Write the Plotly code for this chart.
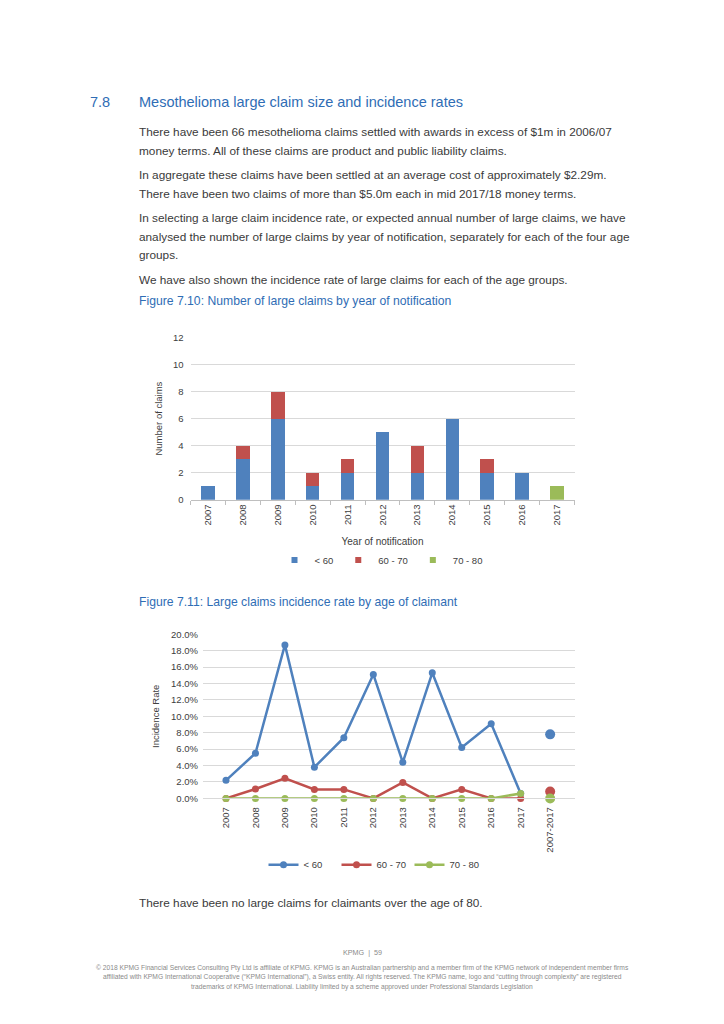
import plotly.graph_objects as go

# page is rendered inside an 8px body margin, so the figure is 8px smaller
OFF = 8
W, H = 716, 1016

# ---------- data ----------
years = ["2007", "2008", "2009", "2010", "2011", "2012", "2013", "2014", "2015", "2016", "2017"]
claims_lt60 = [1, 3, 6, 1, 2, 5, 2, 6, 2, 2, 0]
claims_60_70 = [0, 1, 2, 1, 1, 0, 2, 0, 1, 0, 0]
claims_70_80 = [0, 0, 0, 0, 0, 0, 0, 0, 0, 0, 1]

all_label = "2007-2017"
rate_lt60 = [2.2, 5.5, 18.7, 3.8, 7.4, 15.1, 4.4, 15.3, 6.2, 9.1, 0.6]
rate_60_70 = [0.0, 1.15, 2.45, 1.1, 1.1, 0.0, 1.95, 0.0, 1.1, 0.0, 0.0]
rate_70_80 = [0.0, 0.0, 0.0, 0.0, 0.0, 0.0, 0.0, 0.0, 0.0, 0.0, 0.6]
rate_all = {"< 60": 7.8, "60 - 70": 0.85, "70 - 80": 0.0}

series_names = ["< 60", "60 - 70", "70 - 80"]
colors = ["#4F81BD", "#C0504D", "#9BBB59"]

BLUE_TXT = "#2F6DB5"
BODY = "#3a3a3a"
FONT = "Liberation Sans, Arial, sans-serif"


def px(x):
    return (x - OFF) / W


def py(y):
    return 1 - (y - OFF) / H


fig = go.Figure()

# ---------- chart 1: stacked bars ----------
for name, vals, c in zip(series_names, [claims_lt60, claims_60_70, claims_70_80], colors):
    fig.add_trace(go.Bar(x=years, y=vals, name=name, marker_color=c, legendgroup=name,
                         marker_line_width=0, xaxis="x", yaxis="y", showlegend=False))
    # small square legend key like the original
    fig.add_trace(go.Scatter(x=[None], y=[None], name=name, mode="markers", legendgroup=name,
                             marker=dict(color=c, size=6, symbol="square"),
                             xaxis="x", yaxis="y", legend="legend"))

# ---------- chart 2: lines ----------
for name, vals, c in zip(series_names, [rate_lt60, rate_60_70, rate_70_80], colors):
    fig.add_trace(go.Scatter(x=years, y=vals, name=name, mode="lines+markers",
                             line=dict(color=c, width=2.5), marker=dict(color=c, size=7),
                             cliponaxis=False, xaxis="x2", yaxis="y2", legend="legend2"))
for name, c in zip(series_names, colors):
    fig.add_trace(go.Scatter(x=[all_label], y=[rate_all[name]], mode="markers",
                             marker=dict(color=c, size=10), showlegend=False,
                             cliponaxis=False, xaxis="x2", yaxis="y2"))

axis_font = dict(family=FONT, size=9.5, color="#404040")

fig.update_layout(
    width=W, height=H, autosize=False,
    margin=dict(l=0, r=0, t=0, b=0),
    paper_bgcolor="white", plot_bgcolor="white",
    font=dict(family=FONT, color=BODY),
    barmode="stack", bargap=0.61,
    xaxis=dict(domain=[px(190.5), px(574.5)], type="category", categoryorder="array",
               categoryarray=years, tickangle=-90, tickfont=axis_font,
               showline=True, linecolor="#bfbfbf", linewidth=1,
               ticks="outside", tickson="boundaries", ticklen=4, tickcolor="#bfbfbf",
               showgrid=False, fixedrange=True,
               title=dict(text="Year of notification", font=dict(family=FONT, size=10, color="#404040"),
                          standoff=13)),
    yaxis=dict(domain=[py(499), py(335)], range=[0, 12], dtick=2, tickfont=axis_font,
               gridcolor="#d9d9d9", gridwidth=1, zeroline=False, showline=False,
               ticks="", ticklabelstandoff=6,
               title=dict(text="Number of claims", font=dict(family=FONT, size=9.5, color="#404040"),
                          standoff=8)),
    xaxis2=dict(domain=[px(203), px(575)], type="category", categoryorder="array",
                categoryarray=years + [all_label], tickangle=-90, tickfont=axis_font,
                showline=True, linecolor="#d9d9d9", linewidth=1, ticks="",
                showgrid=False, anchor="y2", ticklabelstandoff=4),
    yaxis2=dict(domain=[py(801), py(635)], range=[0, 20], dtick=2, tickformat=".1f",
                ticksuffix="%", tickfont=axis_font, anchor="x2",
                gridcolor="#d9d9d9", gridwidth=1, zeroline=False, showline=False,
                ticks="", ticklabelstandoff=4,
                title=dict(text="Incidence Rate", font=dict(family=FONT, size=9.5, color="#404040"),
                           standoff=9)),
    legend=dict(orientation="h", x=px(381), xanchor="center", y=py(560), yanchor="middle",
                font=dict(family=FONT, size=9.5, color="#404040"), itemwidth=30,
                traceorder="normal", bgcolor="rgba(0,0,0,0)"),
    legend2=dict(orientation="h", x=px(373), xanchor="center", y=py(868), yanchor="middle",
                 font=dict(family=FONT, size=9.5, color="#404040"), itemwidth=30,
                 entrywidth=28, traceorder="normal", bgcolor="rgba(0,0,0,0)"),
)

# ---------- page text ----------
anns = []


def txt(x, y, s, size=11, color=BODY, xanchor="left"):
    anns.append(dict(x=px(x), y=py(y), xref="paper", yref="paper", text=s, showarrow=False,
                     xanchor=xanchor, yanchor="middle", align=xanchor if xanchor != "center" else "center",
                     font=dict(family=FONT, size=size, color=color)))


txt(88, 97, "7.8", size=14.5, color=BLUE_TXT)
txt(137, 97, "Mesothelioma large claim size and incidence rates", size=14.5, color=BLUE_TXT)

body_lines = [
    (127, "There have been 66 mesothelioma claims settled with awards in excess of $1m in 2006/07"),
    (146, "money terms. All of these claims are product and public liability claims."),
    (171, "In aggregate these claims have been settled at an average cost of approximately $2.29m."),
    (190, "There have been two claims of more than $5.0m each in mid 2017/18 money terms."),
    (214, "In selecting a large claim incidence rate, or expected annual number of large claims, we have"),
    (233, "analysed the number of large claims by year of notification, separately for each of the four age"),
    (252, "groups."),
    (277, "We have also shown the incidence rate of large claims for each of the age groups."),
]
for y, s in body_lines:
    txt(137, y, s, size=11.8)

txt(137, 298, "Figure 7.10: Number of large claims by year of notification", size=12.2, color=BLUE_TXT)
txt(137, 602, "Figure 7.11: Large claims incidence rate by age of claimant", size=12.2, color=BLUE_TXT)
txt(137, 907, "There have been no large claims for claimants over the age of 80.", size=11.8)

txt(362, 957, "KPMG  |  59", size=7.2, color="#8a8a8a", xanchor="center")
footer = [
    (972, "© 2018 KPMG Financial Services Consulting Pty Ltd is affiliate of KPMG. KPMG is an Australian partnership and a member firm of the KPMG network of independent member firms"),
    (982, "affiliated with KPMG International Cooperative (“KPMG International”), a Swiss entity. All rights reserved. The KPMG name, logo and “cutting through complexity” are registered"),
    (992, "trademarks of KPMG International. Liability limited by a scheme approved under Professional Standards Legislation"),
]
for y, s in footer:
    txt(362, y, s, size=6.7, color="#8a8a8a", xanchor="center")

fig.update_layout(annotations=anns)

fig.write_html("out.html")
